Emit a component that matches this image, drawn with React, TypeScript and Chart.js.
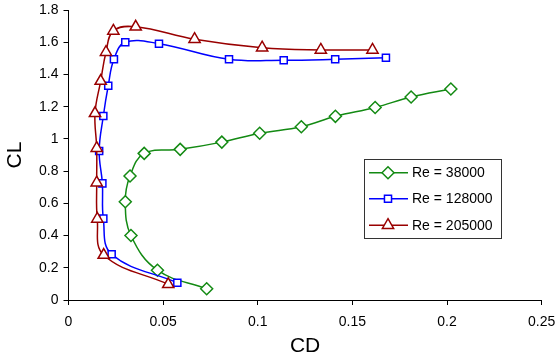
import React, { useEffect, useRef } from "react";
import { Chart, registerables } from "chart.js";
import { drawPoint } from "chart.js/helpers";

Chart.register(...registerables);

// ---- Data ----
const seriesLabels = ["Re = 38000", "Re = 128000", "Re = 205000"];

const re38000CD = [0.073, 0.047, 0.033, 0.030, 0.0325, 0.040, 0.059, 0.081, 0.101, 0.123, 0.141, 0.162, 0.181, 0.202];
const re38000CL = [0.07, 0.185, 0.40, 0.61, 0.77, 0.91, 0.935, 0.98, 1.035, 1.075, 1.14, 1.195, 1.26, 1.31];

const re128000CD = [0.0575, 0.0228, 0.0184, 0.0179, 0.0162, 0.0184, 0.021, 0.024, 0.030, 0.0478, 0.0848, 0.1137, 0.1409, 0.1677];
const re128000CL = [0.107, 0.284, 0.505, 0.724, 0.925, 1.142, 1.33, 1.494, 1.60, 1.591, 1.494, 1.488, 1.494, 1.504];

const re205000CD = [0.0527, 0.0186, 0.0152, 0.0149, 0.0149, 0.014, 0.017, 0.0198, 0.0237, 0.0355, 0.0666, 0.1023, 0.1333, 0.1606];
const re205000CL = [0.0975, 0.279, 0.503, 0.728, 0.942, 1.159, 1.359, 1.538, 1.67, 1.696, 1.619, 1.566, 1.552, 1.552];

const xTicks = [0, 0.05, 0.1, 0.15, 0.2, 0.25];
const yTicks = [0, 0.2, 0.4, 0.6, 0.8, 1, 1.2, 1.4, 1.6, 1.8];

const FONT = "'Liberation Sans', Arial, sans-serif";

const toPoints = (xs: number[], ys: number[]) => xs.map((x, i) => ({ x, y: ys[i] }));

const legendPlugin = {
  id: "boxLegend",
  afterDraw(chart: any) {
    const ctx = chart.ctx as CanvasRenderingContext2D;
    const bx = 364, by = 159, bw = 137, bh = 79;
    ctx.save();
    ctx.fillStyle = "#ffffff";
    ctx.fillRect(bx, by, bw, bh);
    ctx.strokeStyle = "#333333";
    ctx.lineWidth = 1;
    ctx.strokeRect(bx + 0.5, by + 0.5, bw, bh);
    const rowsY = [172.7, 198.8, 225.2];
    chart.data.datasets.forEach((ds: any, i: number) => {
      const y = rowsY[i];
      ctx.strokeStyle = ds.borderColor;
      ctx.lineWidth = 1.5;
      ctx.beginPath();
      ctx.moveTo(369, y);
      ctx.lineTo(408, y);
      ctx.stroke();
      ctx.fillStyle = "#ffffff";
      ctx.strokeStyle = ds.borderColor;
      ctx.lineWidth = 1.5;
      drawPoint(ctx, { pointStyle: ds.pointStyle, radius: ds.pointRadius, rotation: 0, borderWidth: 1.5 } as any, 388, y);
      ctx.fillStyle = "#000000";
      ctx.font = `14px ${FONT}`;
      ctx.textBaseline = "middle";
      ctx.textAlign = "left";
      ctx.fillText(ds.label, 412, y + 0.5);
    });
    ctx.restore();
  },
};

export default function App() {
  const ref = useRef<HTMLCanvasElement>(null);

  useEffect(() => {
    if (!ref.current) return;
    const common = {
      showLine: true,
      tension: 0.4,
      borderWidth: 1.5,
      pointBackgroundColor: "#ffffff",
      pointBorderWidth: 1.5,
      pointHoverRadius: 6,
    };
    const chart = new Chart(ref.current, {
      type: "scatter",
      data: {
        datasets: [
          {
            ...common,
            label: seriesLabels[0],
            data: toPoints(re38000CD, re38000CL),
            borderColor: "#138a13",
            pointBorderColor: "#138a13",
            pointStyle: "rectRot",
            pointRadius: 6,
            order: 2,
          },
          {
            ...common,
            label: seriesLabels[1],
            data: toPoints(re128000CD, re128000CL),
            borderColor: "#0000ff",
            pointBorderColor: "#0000ff",
            pointStyle: "rect",
            pointRadius: 5,
            order: 1,
          },
          {
            ...common,
            label: seriesLabels[2],
            data: toPoints(re205000CD, re205000CL),
            borderColor: "#990000",
            pointBorderColor: "#990000",
            pointStyle: "triangle",
            pointRadius: 6.5,
            order: 0,
          },
        ] as any,
      },
      options: {
        animation: false,
        responsive: false,
        maintainAspectRatio: false,
        layout: { padding: { top: 10, right: 16.3, left: 0, bottom: 0 } },
        plugins: {
          legend: { display: false },
          tooltip: { enabled: false },
        },
        scales: {
          x: {
            type: "linear",
            min: 0,
            max: 0.25,
            afterBuildTicks: (s: any) => {
              s.ticks = xTicks.map((v) => ({ value: v }));
            },
            afterFit: (s: any) => {
              s.height = 60;
              s.paddingLeft = 0;
              s.paddingRight = 0;
            },
            grid: { display: true, drawOnChartArea: false, drawTicks: true, tickLength: 5, color: "#000000" },
            border: { display: true, color: "#000000", width: 1 },
            ticks: {
              color: "#000000",
              font: { family: FONT, size: 14 },
              padding: 9,
              maxRotation: 0,
              callback: (v: any) => String(v),
            },
            title: {
              display: true,
              text: "CD",
              color: "#000000",
              font: { family: FONT, size: 21 },
              padding: { top: 0, bottom: 1 },
            },
          },
          y: {
            type: "linear",
            min: 0,
            max: 1.8,
            afterBuildTicks: (s: any) => {
              s.ticks = yTicks.map((v) => ({ value: v }));
            },
            afterFit: (s: any) => {
              s.width = 68.5;
              s.paddingTop = 0;
              s.paddingBottom = 0;
            },
            grid: { display: true, drawOnChartArea: false, drawTicks: true, tickLength: 5, color: "#000000" },
            border: { display: true, color: "#000000", width: 1 },
            ticks: {
              color: "#000000",
              font: { family: FONT, size: 14 },
              padding: 5,
              callback: (v: any) => String(v),
            },
            title: {
              display: true,
              text: "CL",
              color: "#000000",
              font: { family: FONT, size: 21 },
              padding: { top: 3, bottom: 0 },
            },
          },
        },
      } as any,
      plugins: [legendPlugin],
    });
    return () => chart.destroy();
  }, []);

  return (
    <div style={{ position: "fixed", left: 0, top: 0, width: 558, height: 360, background: "#ffffff" }}>
      <canvas ref={ref} width={558} height={360} style={{ width: 558, height: 360 }} />
    </div>
  );
}
